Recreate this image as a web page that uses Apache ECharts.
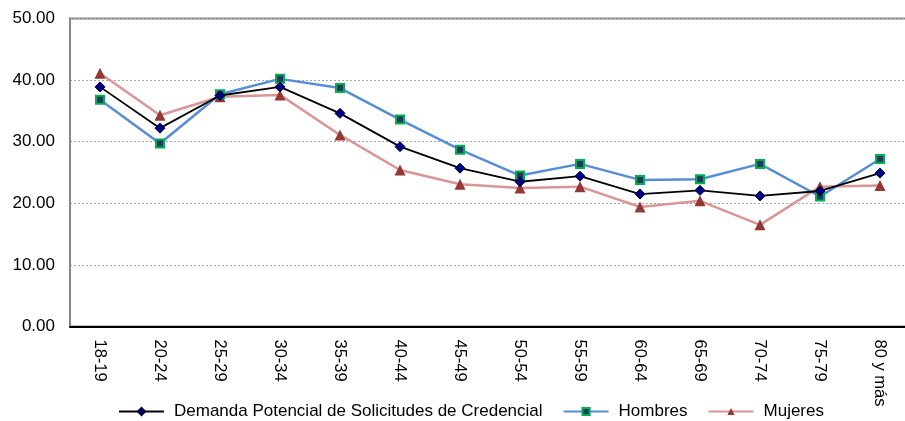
<!DOCTYPE html>
<html>
<head>
<meta charset="utf-8">
<script src="https://cdn.jsdelivr.net/npm/echarts@6/dist/echarts.min.js"></script>
<style>
  html, body { margin: 0; padding: 0; background: #fff; }
  #chart { width: 905px; height: 421px; }
</style>
</head>
<body>
<div id="chart"></div>
<script>
// grupos de edad
const categories = ["18-19", "20-24", "25-29", "30-34", "35-39", "40-44", "45-49",
  "50-54", "55-59", "60-64", "65-69", "70-74", "75-79", "80 y más"];

const demanda = [38.9, 32.2, 37.5, 38.9, 34.6, 29.2, 25.7, 23.5, 24.4, 21.5, 22.1, 21.2, 22.0, 24.9];
const hombres = [36.8, 29.7, 37.7, 40.2, 38.7, 33.6, 28.7, 24.5, 26.4, 23.8, 23.9, 26.4, 21.1, 27.2];
const mujeres = [41.1, 34.3, 37.3, 37.6, 31.1, 25.4, 23.1, 22.5, 22.7, 19.4, 20.4, 16.5, 22.7, 22.9];

const yTicks = [0, 10, 20, 30, 40, 50];

const font = "Liberation Sans, Arial, sans-serif";

const chart = echarts.init(document.getElementById("chart"));

chart.setOption({
  animation: false,
  textStyle: { fontFamily: font },
  grid: {
    left: 70,
    width: 840, // el borde derecho queda fuera de la imagen
    top: 18.5,
    bottom: 94.5,
    outerBoundsMode: "none",
    show: true,
    borderColor: "#868686",
    borderWidth: 2,
  },
  legend: {
    left: 118,
    top: 403,
    padding: 0,
    itemWidth: 45,
    itemHeight: 9,
    itemGap: 20,
    textStyle: { fontSize: 17, color: "#000", fontFamily: font, padding: [0, 0, 0, 5] },
    data: [
      "Demanda Potencial de Solicitudes de Credencial",
      "Hombres",
      "Mujeres",
    ],
  },
  xAxis: {
    type: "category",
    data: categories,
    axisLine: { lineStyle: { color: "#000", width: 2 } },
    axisTick: { show: false },
    axisLabel: {
      rotate: -90,
      margin: 13,
      fontSize: 16.5,
      color: "#000",
      fontFamily: font,
      interval: 0,
    },
  },
  yAxis: {
    type: "value",
    min: yTicks[0],
    max: yTicks[yTicks.length - 1],
    interval: 10,
    axisLine: { show: true, lineStyle: { color: "#868686", width: 2 } },
    axisTick: { show: false },
    axisLabel: {
      margin: 15,
      fontSize: 17,
      color: "#000",
      fontFamily: font,
      formatter: (v) => v.toFixed(2),
    },
    splitLine: {
      lineStyle: { color: "#a6a6a6", type: [2, 2], width: 1 },
    },
  },
  series: [
    {
      name: "Demanda Potencial de Solicitudes de Credencial",
      type: "line",
      data: demanda,
      symbol: "diamond",
      symbolSize: 10,
      z: 4,
      lineStyle: { color: "#000", width: 1.8 },
      itemStyle: { color: "#000080", borderColor: "#000033", borderWidth: 1 },
    },
    {
      name: "Hombres",
      type: "line",
      data: hombres,
      symbol: "rect",
      symbolSize: 8,
      z: 3,
      lineStyle: { color: "#558ed5", width: 2.5 },
      itemStyle: { color: "#1f3a5f", borderColor: "#00b050", borderWidth: 2 },
    },
    {
      name: "Mujeres",
      type: "line",
      data: mujeres,
      symbol: "triangle",
      symbolSize: 11,
      z: 2,
      lineStyle: { color: "#d99694", width: 2.5 },
      itemStyle: { color: "#953735", borderColor: "#953735", borderWidth: 0 },
    },
  ],
});
</script>
</body>
</html>
